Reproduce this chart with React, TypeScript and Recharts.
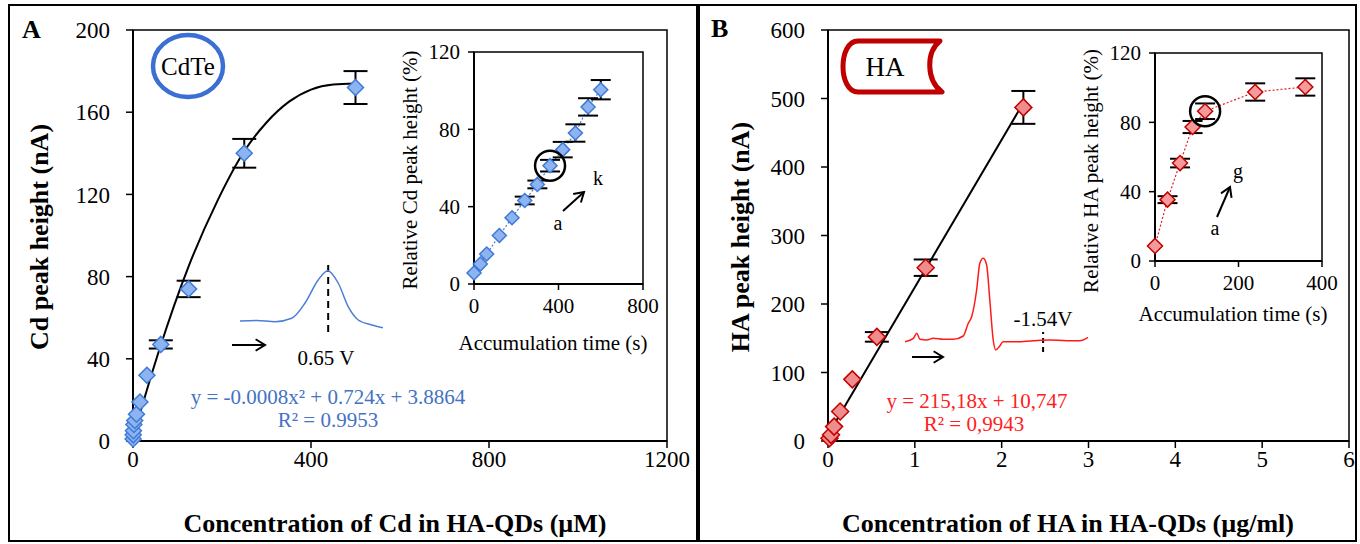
import React from 'react'
import {
  ComposedChart,
  LineChart,
  Line,
  Scatter,
  XAxis,
  YAxis,
  ErrorBar,
  ReferenceArea,
  ReferenceDot,
  ReferenceLine,
} from 'recharts'

const SERIF = '"Liberation Serif", "Times New Roman", serif'

// ---- Panel A: CdTe / Cd ----
const cdConc = [0.24, 0.49, 0.98, 1.95, 3.9, 7.8, 15.6, 31.25, 62.5, 125, 250, 500]
const cdPeak = [1, 3, 5, 8, 10, 13, 19, 32, 47, 74, 140, 172]
const cdPeakErr = [0, 0, 0, 0, 0, 0, 0, 0, 2, 4, 7, 8]

// quadratic trend line as drawn in the figure
const cdFitX = [0, 30, 60, 125, 190, 250, 300, 350, 400, 450, 500]
const cdFitY = [2, 24, 45, 85, 117, 141, 155, 165, 171, 173.5, 174]

// inset A: accumulation time
const cdTime = [0, 30, 60, 120, 180, 240, 300, 360, 420, 480, 540, 600]
const cdRel = [5.7, 10.3, 15.5, 25.1, 34.3, 43.2, 51.5, 61.2, 69.5, 78.1, 91.6, 100.5]
const cdRelErr = [0, 0, 0, 0, 0, 2, 2, 3, 4, 4.5, 4.5, 5]

// voltammogram sketch A (potential V, current a.u.)
const cdVoltE = [0.28, 0.35, 0.427, 0.497, 0.553, 0.608, 0.648, 0.692, 0.734, 0.776, 0.833, 0.88]
const cdVoltI = [11, 11.5, 10.3, 13.7, 29, 52, 61.3, 49, 25.3, 12, 7, 4.3]

// ---- Panel B: HA ----
const haConc = [0.0175, 0.035, 0.07, 0.14, 0.28, 0.5625, 1.125, 2.25]
const haPeak = [4, 9, 21, 43, 90, 152, 253, 487]
const haPeakErr = [0, 0, 0, 0, 0, 7, 12, 24]

const haFitX = [0, 2.27]
const haFitY = [9, 498]

const haTime = [0, 30, 60, 90, 120, 240, 360]
const haRel = [8.7, 35.4, 56.5, 77.3, 86.4, 97.5, 100.4]
const haRelErr = [0, 2, 2.5, 3.5, 4.5, 5, 5]

const haVoltE = [-2.232, -2.19, -2.173, -2.157, -2.123, -2.09, -2.04, -1.99, -1.94, -1.915, -1.898, -1.873, -1.857, -1.84, -1.823, -1.807, -1.79, -1.777, -1.76, -1.74, -1.673, -1.59, -1.507, -1.423, -1.357, -1.315]
const haVoltI = [10.3, 13.7, 18.7, 12.7, 12, 13.7, 12.7, 12.7, 16, 28.7, 35.3, 62, 88.7, 93.7, 87, 52, 12, 2, 5.3, 10.3, 10.3, 11.3, 12, 11.3, 11.3, 14.7]

const zip = (xs: number[], ys: number[], es?: number[]) =>
  xs.map((x, i) => ({ x, y: ys[i], err: es ? es[i] : 0 }))

const cdMain = zip(cdConc, cdPeak, cdPeakErr)
const cdFit = zip(cdFitX, cdFitY)
const cdInset = zip(cdTime, cdRel, cdRelErr)
const cdVolt = zip(cdVoltE, cdVoltI)
const haMain = zip(haConc, haPeak, haPeakErr)
const haFit = zip(haFitX, haFitY)
const haInset = zip(haTime, haRel, haRelErr)
const haVolt = zip(haVoltE, haVoltI)

const diamond = (h: number, fill: string, stroke: string) => (props: any) => {
  const { cx, cy } = props
  if (cx == null || cy == null) return <g />
  return (
    <polygon
      points={`${cx},${cy - h} ${cx + h},${cy} ${cx},${cy + h} ${cx - h},${cy}`}
      fill={fill}
      stroke={stroke}
      strokeWidth={1.5}
    />
  )
}

const axisLine = { stroke: '#000', strokeWidth: 2 }
const tickLine = { stroke: '#000', strokeWidth: 1.5 }
const mainTick = { fill: '#000', fontSize: 23, fontFamily: SERIF }
const insetTick = { fill: '#000', fontSize: 21, fontFamily: SERIF }

function Arrow({ x1, y1, x2, y2 }: { x1: number; y1: number; x2: number; y2: number }) {
  const a = Math.atan2(y2 - y1, x2 - x1)
  const head = 11
  const p = (da: number) => `${x2 - head * Math.cos(a + da)},${y2 - head * Math.sin(a + da)}`
  return (
    <g stroke="#000" strokeWidth={2} fill="none">
      <line x1={x1} y1={y1} x2={x2} y2={y2} />
      <polyline points={`${p(0.55)} ${x2},${y2} ${p(-0.55)}`} />
    </g>
  )
}

const abs = (left: number, top: number): React.CSSProperties => ({ position: 'absolute', left, top })

export default function App() {
  return (
    <div style={{ position: 'absolute', left: 0, top: 0, width: 1360, height: 544, background: '#fff', fontFamily: SERIF }}>
      {/* Panel A main */}
      <div style={abs(0, 0)}>
        <ComposedChart width={700} height={544} margin={{ top: 30, right: 33, bottom: 73, left: 73 }}>
          <XAxis type="number" dataKey="x" domain={[0, 1200]} ticks={[0, 400, 800, 1200]} height={30}
            axisLine={axisLine} tickLine={tickLine} tickSize={7} tickMargin={3} tick={mainTick} />
          <YAxis type="number" dataKey="y" domain={[0, 200]} ticks={[0, 40, 80, 120, 160, 200]} width={60}
            axisLine={axisLine} tickLine={tickLine} tickSize={7} tickMargin={16} tick={mainTick} />
          <ReferenceArea x1={0} x2={1200} y1={0} y2={200} fill="none" stroke="#000" strokeWidth={1.5} ifOverflow="visible" />
          <Line data={cdFit} dataKey="y" type="monotone" stroke="#000" strokeWidth={2} dot={false} isAnimationActive={false} />
          <Scatter data={cdMain} dataKey="y" shape={diamond(8, '#8db4f0', '#3e7ad6')} isAnimationActive={false}>
            <ErrorBar dataKey="err" direction="y" width={12} stroke="#000" strokeWidth={2} />
          </Scatter>
        </ComposedChart>
      </div>

      {/* Panel A voltammogram sketch */}
      <div style={abs(240, 262)}>
        <LineChart width={143} height={70} data={cdVolt} margin={{ top: 0, right: 0, bottom: 0, left: 0 }}>
          <XAxis type="number" dataKey="x" domain={[0.28, 0.88]} hide />
          <YAxis type="number" domain={[0, 70]} hide />
          <ReferenceLine x={0.65} stroke="#000" strokeWidth={2} strokeDasharray="7 5" />
          <Line dataKey="y" type="monotone" stroke="#4a7fd6" strokeWidth={1.5} dot={false} isAnimationActive={false} />
        </LineChart>
      </div>

      {/* Panel A inset */}
      <div style={abs(390, 30)}>
        <ComposedChart width={278} height={330} margin={{ top: 22, right: 25, bottom: 46, left: 44 }}>
          <XAxis type="number" dataKey="x" domain={[0, 800]} ticks={[0, 400, 800]} height={30}
            axisLine={axisLine} tickLine={tickLine} tickSize={6} tickMargin={8} tick={insetTick} />
          <YAxis type="number" dataKey="y" domain={[0, 120]} ticks={[0, 40, 80, 120]} width={40}
            axisLine={axisLine} tickLine={tickLine} tickSize={6} tickMargin={8} tick={insetTick} />
          <ReferenceArea x1={0} x2={800} y1={0} y2={120} fill="none" stroke="#000" strokeWidth={1.5} ifOverflow="visible" />
          <Line data={cdInset} dataKey="y" type="linear" stroke="#3e7ad6" strokeWidth={1.2} strokeDasharray="2 2" dot={false} isAnimationActive={false} />
          <Scatter data={cdInset} dataKey="y" shape={diamond(7, '#8db4f0', '#3e7ad6')} isAnimationActive={false}>
            <ErrorBar dataKey="err" direction="y" width={10} stroke="#000" strokeWidth={2} />
          </Scatter>
          <ReferenceDot x={360} y={61.2} r={15} fill="none" stroke="#000" strokeWidth={2.5} />
        </ComposedChart>
      </div>

      {/* Panel B main */}
      <div style={abs(700, 0)}>
        <ComposedChart width={656} height={544} margin={{ top: 30, right: 7, bottom: 73, left: 68 }}>
          <XAxis type="number" dataKey="x" domain={[0, 6]} ticks={[0, 1, 2, 3, 4, 5, 6]} height={30}
            axisLine={axisLine} tickLine={tickLine} tickSize={7} tickMargin={3} tick={mainTick} />
          <YAxis type="number" dataKey="y" domain={[0, 600]} ticks={[0, 100, 200, 300, 400, 500, 600]} width={60}
            axisLine={axisLine} tickLine={tickLine} tickSize={7} tickMargin={16} tick={mainTick} />
          <ReferenceArea x1={0} x2={6} y1={0} y2={600} fill="none" stroke="#000" strokeWidth={1.5} ifOverflow="visible" />
          <Line data={haFit} dataKey="y" type="linear" stroke="#000" strokeWidth={2} dot={false} isAnimationActive={false} />
          <Scatter data={haMain} dataKey="y" shape={diamond(8.5, '#f08c8c', '#c00000')} isAnimationActive={false}>
            <ErrorBar dataKey="err" direction="y" width={12} stroke="#000" strokeWidth={2} />
          </Scatter>
        </ComposedChart>
      </div>

      {/* Panel B voltammogram sketch */}
      <div style={abs(905, 257)}>
        <LineChart width={184} height={95} data={haVolt} margin={{ top: 0, right: 0, bottom: 0, left: 0 }}>
          <XAxis type="number" dataKey="x" domain={[-2.232, -1.31]} hide />
          <YAxis type="number" domain={[0, 95]} hide />
          <ReferenceLine segment={[{ x: -1.54, y: 0 }, { x: -1.54, y: 20 }]} stroke="#000" strokeWidth={2} strokeDasharray="5 4" />
          <Line dataKey="y" type="monotone" stroke="#ff1a1a" strokeWidth={1.5} dot={false} isAnimationActive={false} />
        </LineChart>
      </div>

      {/* Panel B inset */}
      <div style={abs(1075, 30)}>
        <ComposedChart width={273} height={300} margin={{ top: 23, right: 26, bottom: 39, left: 40 }}>
          <XAxis type="number" dataKey="x" domain={[0, 400]} ticks={[0, 200, 400]} height={30}
            axisLine={axisLine} tickLine={tickLine} tickSize={6} tickMargin={8} tick={insetTick} />
          <YAxis type="number" dataKey="y" domain={[0, 120]} ticks={[0, 40, 80, 120]} width={40}
            axisLine={axisLine} tickLine={tickLine} tickSize={6} tickMargin={8} tick={insetTick} />
          <ReferenceArea x1={0} x2={400} y1={0} y2={120} fill="none" stroke="#000" strokeWidth={1.5} ifOverflow="visible" />
          <Line data={haInset} dataKey="y" type="linear" stroke="#e02020" strokeWidth={1.2} strokeDasharray="2 2" dot={false} isAnimationActive={false} />
          <Scatter data={haInset} dataKey="y" shape={diamond(7.5, '#f59a9a', '#c00000')} isAnimationActive={false}>
            <ErrorBar dataKey="err" direction="y" width={10} stroke="#000" strokeWidth={2} />
          </Scatter>
          <ReferenceDot x={120} y={86.4} r={15} fill="none" stroke="#000" strokeWidth={2.5} />
        </ComposedChart>
      </div>

      {/* annotations, titles and panel frames */}
      <svg width={1360} height={544} style={{ position: 'absolute', left: 0, top: 0, pointerEvents: 'none' }} fontFamily={SERIF}>
        <rect x={9} y={5} width={688} height={536} fill="none" stroke="#000" strokeWidth={2} />
        <rect x={699} y={5} width={657} height={536} fill="none" stroke="#000" strokeWidth={2} />

        <text x={22} y={38} fontSize={26} fontWeight="bold">A</text>
        <text x={711} y={37} fontSize={26} fontWeight="bold">B</text>

        <text transform="translate(48,237) rotate(-90)" textAnchor="middle" fontSize={26} fontWeight="bold">Cd peak height  (nA)</text>
        <text x={395} y={532} textAnchor="middle" fontSize={26} fontWeight="bold">Concentration of Cd in HA-QDs (µM)</text>
        <text transform="translate(749,237) rotate(-90)" textAnchor="middle" fontSize={26} fontWeight="bold">HA peak height  (nA)</text>
        <text x={1068} y={532} textAnchor="middle" fontSize={26} fontWeight="bold">Concentration of HA in HA-QDs (µg/ml)</text>

        <text transform="translate(417,170) rotate(-90)" textAnchor="middle" fontSize={21}>Relative Cd peak height  (%)</text>
        <text x={553} y={350} textAnchor="middle" fontSize={21}>Accumulation time (s)</text>
        <text transform="translate(1098,171) rotate(-90)" textAnchor="middle" fontSize={21}>Relative HA peak height  (%)</text>
        <text x={1233} y={321} textAnchor="middle" fontSize={21}>Accumulation time (s)</text>

        <text x={328} y={404} textAnchor="middle" fontSize={21} fill="#4472c4">y = -0.0008x² + 0.724x + 3.8864</text>
        <text x={328} y={427} textAnchor="middle" fontSize={21} fill="#4472c4">R² = 0.9953</text>
        <text x={977} y={408} textAnchor="middle" fontSize={21} fill="#ff2020">y = 215,18x + 10,747</text>
        <text x={974} y={431} textAnchor="middle" fontSize={21} fill="#ff2020">R² = 0,9943</text>

        <Arrow x1={232} y1={345} x2={265} y2={345} />
        <text x={326} y={365} textAnchor="middle" fontSize={21}>0.65 V</text>
        <Arrow x1={912} y1={357} x2={943} y2={357} />
        <text x={1043} y={326} textAnchor="middle" fontSize={21}>-1.54V</text>

        <Arrow x1={563} y1={211} x2={584} y2={192} />
        <text x={558} y={230} textAnchor="middle" fontSize={20}>a</text>
        <text x={598} y={185} textAnchor="middle" fontSize={20}>k</text>
        <Arrow x1={1217} y1={217} x2={1230} y2={187} />
        <text x={1215} y={235} textAnchor="middle" fontSize={20}>a</text>
        <text x={1238} y={178} textAnchor="middle" fontSize={20}>g</text>

        <ellipse cx={188} cy={66} rx={35} ry={31} fill="none" stroke="#3b6fd4" strokeWidth={4.5} />
        <text x={188} y={75} textAnchor="middle" fontSize={25}>CdTe</text>

        <path d="M 858 41 H 940 C 926 52, 926 80, 942 92 H 858 C 838 92, 838 41, 858 41 Z" fill="none" stroke="#c00000" strokeWidth={5} strokeLinejoin="round" />
        <text x={885} y={76} textAnchor="middle" fontSize={27}>HA</text>
      </svg>
    </div>
  )
}
